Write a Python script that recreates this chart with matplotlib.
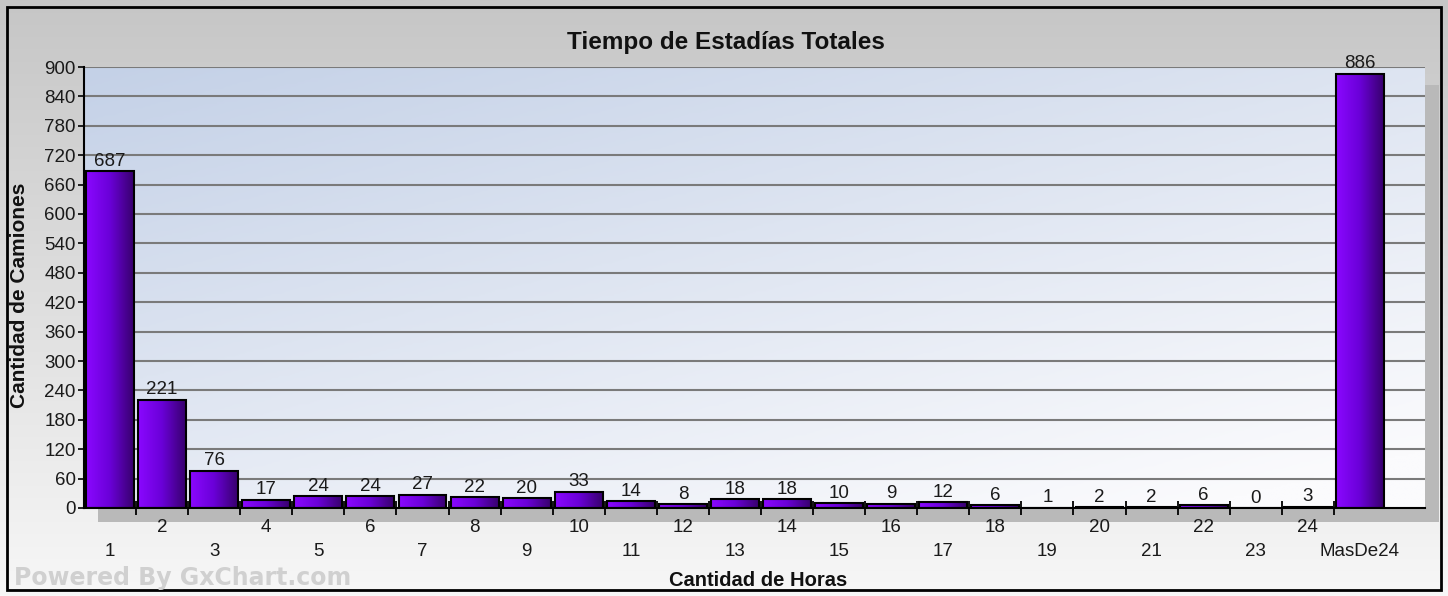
import matplotlib.pyplot as plt
import matplotlib.colors as mcolors
import numpy as np
from matplotlib.patches import Rectangle

# datos del histograma
categorias = [str(i) for i in range(1, 25)] + ['MasDe24']
camiones = [687, 221, 76, 17, 24, 24, 27, 22, 20, 33, 14, 8, 18, 18, 10, 9, 12, 6, 1, 2, 2, 6, 0, 3, 886]
y_ticks = list(range(0, 901, 60))

titulo = 'Tiempo de Estadías Totales'
eje_x = 'Cantidad de Horas'
eje_y = 'Cantidad de Camiones'
marca = 'Powered By GxChart.com'

plt.rcParams['font.family'] = ['Liberation Sans', 'DejaVu Sans']

W, H = 1448, 596
fig = plt.figure(figsize=(W / 100, H / 100), dpi=100)
fig.patch.set_facecolor('white')

# fondo gris degradado de todo el grafico
bg = fig.add_axes([0, 0, 1, 1], zorder=-5)
grad = np.linspace(0, 1, 256).reshape(-1, 1)
cm_bg = mcolors.LinearSegmentedColormap.from_list('bg', ['#c6c6c6', '#f7f7f7'])
bg.imshow(grad, aspect='auto', cmap=cm_bg, extent=[0, 1, 0, 1], origin='upper')
bg.add_patch(Rectangle((7 / W, 6 / H), 1 - 14 / W, 1 - 13 / H, fill=False,
                       edgecolor='black', linewidth=2, transform=bg.transAxes))
bg.set_xlim(0, 1)
bg.set_ylim(0, 1)
bg.axis('off')

# area de trazado
x0, x1 = 84 / W, 1425 / W
y0, y1 = 1 - 508 / H, 1 - 67 / H
ax = fig.add_axes([x0, y0, x1 - x0, y1 - y0])

# sombra detras del area de trazado
sombra = Rectangle((x0 + 14 / W, y0 - 14 / H), x1 - x0, y1 - y0 - 4 / H,
                   transform=fig.transFigure, facecolor='#b9b9b9', edgecolor='none', zorder=-1)
fig.patches.append(sombra)

n = len(categorias)
pos = np.arange(n)
xmax = n - 1 + 1.25

# degradado del fondo: azulado arriba a la izquierda, casi blanco abajo a la derecha
xx, yy = np.meshgrid(np.linspace(0, 1, 200), np.linspace(0, 1, 200))
cm_plot = mcolors.LinearSegmentedColormap.from_list('plot', ['#c4d1e7', '#fbfbfd'])
ax.imshow(0.6 * xx + 0.8 * yy, aspect='auto', cmap=cm_plot, vmin=0, vmax=1.3,
          extent=[-0.5, xmax, 0, 900], origin='upper', zorder=0)

for y in y_ticks[1:]:
    ax.axhline(y, color='#7a7a7a', linewidth=1.5, zorder=1)

# barras con degradado horizontal
cm_bar = mcolors.LinearSegmentedColormap.from_list('bar', ['#8a08ff', '#6a00d8', '#38006e'])
ancho = 0.92
barras = ax.bar(pos, camiones, width=ancho, facecolor='none', edgecolor='black',
                linewidth=1.5, zorder=3)
gbar = np.linspace(0, 1, 64).reshape(1, -1)
for b, v in zip(barras, camiones):
    if v > 0:
        ax.imshow(gbar, aspect='auto', cmap=cm_bar, zorder=2,
                  extent=[b.get_x(), b.get_x() + b.get_width(), 0, v])
    ax.text(b.get_x() + b.get_width() / 2, v + 3, str(v), ha='center', va='bottom',
            fontsize=13.5, color='#1a1a1a', zorder=4)

ax.set_xlim(-0.5, xmax)
ax.set_ylim(0, 900)

# ejes
for s in ['top', 'right']:
    ax.spines[s].set_visible(False)
for s in ['left', 'bottom']:
    ax.spines[s].set_linewidth(1.5)
    ax.spines[s].set_zorder(5)

ax.set_yticks(y_ticks)
ax.set_yticklabels([str(v) for v in y_ticks], fontsize=13.5, color='#1a1a1a')
ax.tick_params(axis='y', direction='out', length=4, width=1.2, pad=2)

ax.set_xticks(pos[:-1] + 0.5)
ax.set_xticklabels([])
ax.tick_params(axis='x', direction='inout', length=10, width=1.3)

# etiquetas de categoria en dos filas
tr = ax.get_xaxis_transform()
for i, c in enumerate(categorias):
    fila = -20 / 441 if i % 2 else -43 / 441
    ax.text(i, fila, c, transform=tr, ha='center', va='center', fontsize=13.5,
            color='#1a1a1a', clip_on=False)

fig.text(726 / W, 1 - 43 / H, titulo, ha='center', va='center', fontsize=17.5,
         fontweight='bold', color='#111111')
fig.text(758 / W, 1 - 580 / H, eje_x, ha='center', va='center', fontsize=14.5,
         fontweight='bold', color='#111111')
fig.text(20 / W, 1 - 295 / H, eje_y, ha='center', va='center', rotation=90,
         fontsize=15, fontweight='bold', color='#111111')
fig.text(14 / W, 1 - 578 / H, marca, ha='left', va='center', fontsize=17,
         fontweight='bold', color='#d0d0d0', family='DejaVu Sans')

fig.savefig('out.png', dpi=100)
